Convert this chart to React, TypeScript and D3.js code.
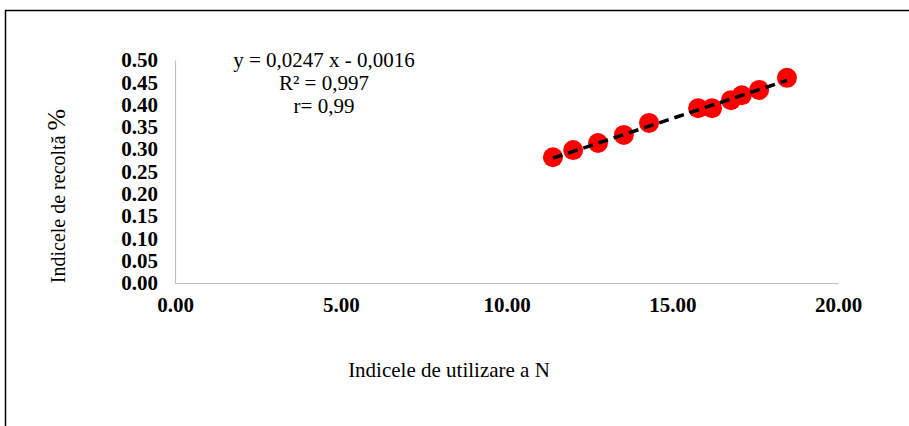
import React, { useEffect, useRef } from "react";
import * as d3 from "d3";

// values
const utilizareN = [11.4, 12.01, 12.76, 13.54, 14.3, 15.78, 16.2, 16.77, 17.1, 17.62, 18.46];
const recolta = [0.282, 0.298, 0.314, 0.332, 0.359, 0.392, 0.392, 0.41, 0.421, 0.433, 0.46];

const xTicks = [0, 5, 10, 15, 20];
const yTicks = [0, 0.05, 0.1, 0.15, 0.2, 0.25, 0.3, 0.35, 0.4, 0.45, 0.5];

// trendline from the label
const slope = 0.0247;
const intercept = -0.0016;
const eqLines = ["y = 0,0247 x - 0,0016", "R² = 0,997", "r= 0,99"];

const W = 909;
const H = 426;

export default function App() {
  const ref = useRef<SVGSVGElement>(null);

  useEffect(() => {
    const svg = d3.select(ref.current);
    svg.selectAll("*").remove();

    const font = "Liberation Serif, DejaVu Serif, serif";
    const margin = { top: 60, right: 71, bottom: 143, left: 175 };
    const w = W - margin.left - margin.right;
    const h = H - margin.top - margin.bottom;

    // outer frame (only top and left are in view)
    svg
      .append("path")
      .attr("d", `M5.5,${H} V10.5 H${W}`)
      .attr("fill", "none")
      .attr("stroke", "#000")
      .attr("stroke-width", 1.5);

    const g = svg.append("g").attr("transform", `translate(${margin.left},${margin.top})`);

    const x = d3.scaleLinear().domain([0, 20]).range([0, w]);
    const y = d3.scaleLinear().domain([0, 0.5]).range([h, 0]);

    // axes
    const xAxis = g
      .append("g")
      .attr("transform", `translate(0,${h})`)
      .call(d3.axisBottom(x).tickValues(xTicks).tickSize(0).tickPadding(14).tickFormat(d3.format(".2f")));
    xAxis.attr("font-family", font).attr("font-size", 21);
    xAxis.select(".domain").attr("stroke", "#bfbfbf").attr("stroke-width", 1.2);
    xAxis.selectAll("text").attr("font-weight", "bold").attr("fill", "#000");

    const yAxis = g
      .append("g")
      .call(d3.axisLeft(y).tickValues(yTicks).tickSize(0).tickPadding(17).tickFormat(d3.format(".2f")));
    yAxis.attr("font-family", font).attr("font-size", 21);
    yAxis.select(".domain").attr("stroke", "#bfbfbf").attr("stroke-width", 1.2);
    yAxis.selectAll("text").attr("font-weight", "bold").attr("fill", "#000");

    // points
    const data = utilizareN.map((v, i) => ({ x: v, y: recolta[i] }));
    g.selectAll("circle")
      .data(data)
      .join("circle")
      .attr("cx", (d) => x(d.x))
      .attr("cy", (d) => y(d.y))
      .attr("r", 10)
      .attr("fill", "#ff0000");

    // trendline
    const x0 = d3.min(utilizareN) as number;
    const x1 = d3.max(utilizareN) as number;
    g.append("line")
      .attr("x1", x(x0))
      .attr("y1", y(slope * x0 + intercept))
      .attr("x2", x(x1))
      .attr("y2", y(slope * x1 + intercept))
      .attr("stroke", "#000")
      .attr("stroke-width", 3.5)
      .attr("stroke-dasharray", "10,6");

    // equation label
    const eq = svg
      .append("text")
      .attr("font-family", font)
      .attr("font-size", 21)
      .attr("text-anchor", "middle")
      .attr("fill", "#000");
    eqLines.forEach((t, i) => {
      eq.append("tspan").attr("x", 324).attr("y", 67 + i * 23).text(t);
    });

    // axis titles
    svg
      .append("text")
      .attr("x", 449)
      .attr("y", 377)
      .attr("text-anchor", "middle")
      .attr("font-family", font)
      .attr("font-size", 21)
      .text("Indicele de utilizare a N");

    const yt = svg
      .append("text")
      .attr("transform", "translate(65,196) rotate(-90)")
      .attr("text-anchor", "middle")
      .attr("font-family", font)
      .attr("font-size", 20);
    yt.append("tspan").text("Indicele de recoltă ");
    yt.append("tspan").attr("font-size", 26).text("%");
  }, []);

  return (
    <svg
      ref={ref}
      width={W}
      height={H}
      style={{ position: "absolute", left: 0, top: 0, background: "#fff" }}
    />
  );
}
